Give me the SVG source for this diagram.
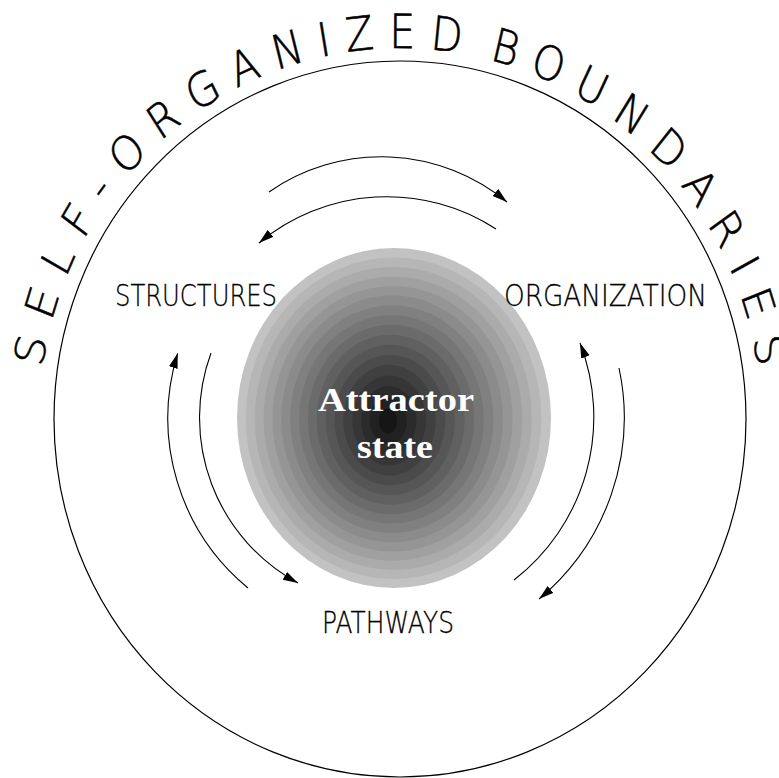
<svg xmlns="http://www.w3.org/2000/svg" width="779" height="778" viewBox="0 0 779 778">
<style>
.lbl{font-family:'DejaVu Sans','Liberation Sans',sans-serif;font-weight:200;font-size:31px;fill:#000;stroke:#000;stroke-width:0.3}
.ring{font-family:'DejaVu Sans','Liberation Sans',sans-serif;font-weight:200;font-size:41px;fill:#000;stroke:#000;stroke-width:0.5}
.core{font-family:'Liberation Serif','Times New Roman',serif;font-weight:bold;font-size:34px;fill:#fff}
.arc{fill:none;stroke:#000;stroke-width:1.1;marker-end:url(#ah)}
</style>
<defs>
<marker id="ah" markerUnits="userSpaceOnUse" markerWidth="16" markerHeight="10" refX="15" refY="4.5" orient="auto">
<path d="M0,0 L15,4.5 L0,9 Z" fill="#000"/>
</marker>
<path id="tp" d="M-361,0 A361,322.5 0 0 1 361,0" fill="none"/>
</defs>
<rect width="779" height="778" fill="#fff"/>
<g id="boundary">
<ellipse cx="400" cy="419" rx="346" ry="358" fill="none" stroke="#000" stroke-width="1.2"/>
<g transform="translate(400,419) scale(1,1.15)">
<text class="ring"><textPath href="#tp" startOffset="50%" text-anchor="middle" textLength="985" lengthAdjust="spacing" word-spacing="-14">SELF-ORGANIZED BOUNDARIES</textPath></text>
</g>
</g>
<g id="attractor">
<ellipse cx="394" cy="418" rx="157" ry="170" fill="#c2c2c2"/>
<ellipse cx="393.6" cy="418.2" rx="147.8" ry="160.8" fill="#b6b6b6"/>
<ellipse cx="393.3" cy="418.4" rx="138.5" ry="151.5" fill="#ababab"/>
<ellipse cx="392.9" cy="418.6" rx="129.3" ry="142.2" fill="#a0a0a0"/>
<ellipse cx="392.5" cy="418.8" rx="120.1" ry="132.8" fill="#959595"/>
<ellipse cx="392.1" cy="418.9" rx="110.8" ry="123.4" fill="#8b8b8b"/>
<ellipse cx="391.8" cy="419.1" rx="101.6" ry="113.9" fill="#808080"/>
<ellipse cx="391.4" cy="419.3" rx="92.4" ry="104.3" fill="#767676"/>
<ellipse cx="391" cy="419.5" rx="83.1" ry="94.7" fill="#6b6b6b"/>
<ellipse cx="390.6" cy="419.7" rx="73.9" ry="85" fill="#606060"/>
<ellipse cx="390.3" cy="419.9" rx="64.6" ry="75.2" fill="#565656"/>
<ellipse cx="389.9" cy="420.1" rx="55.4" ry="65.2" fill="#4b4b4b"/>
<ellipse cx="389.5" cy="420.3" rx="46.2" ry="55.2" fill="#404040"/>
<ellipse cx="389.1" cy="420.4" rx="36.9" ry="44.9" fill="#363636"/>
<ellipse cx="388.8" cy="420.6" rx="27.7" ry="34.5" fill="#2b2b2b"/>
<ellipse cx="388.4" cy="420.8" rx="18.5" ry="23.7" fill="#212121"/>
<ellipse cx="388" cy="421" rx="9.2" ry="12.5" fill="#161616"/>
<text class="core" x="396" y="411" text-anchor="middle" textLength="156" lengthAdjust="spacingAndGlyphs">Attractor</text>
<text class="core" x="395" y="458" text-anchor="middle" textLength="76" lengthAdjust="spacingAndGlyphs">state</text>
</g>
<g id="structures">
<text class="lbl" x="115" y="306" textLength="162" lengthAdjust="spacingAndGlyphs">STRUCTURES</text>
</g>
<g id="organization">
<text class="lbl" x="504" y="305.5" textLength="203" lengthAdjust="spacingAndGlyphs">ORGANIZATION</text>
</g>
<g id="pathways">
<text class="lbl" x="322" y="633" textLength="132" lengthAdjust="spacingAndGlyphs">PATHWAYS</text>
</g>
<g id="connectors">
<path class="arc" d="M269,192 A197,197 0 0 1 507,202"/>
<path class="arc" d="M496,229 A200,200 0 0 0 259,243"/>
<path class="arc" d="M248,588 A220,220 0 0 1 177.7,353.3"/>
<path class="arc" d="M211,353 A188,188 0 0 0 298,583"/>
<path class="arc" d="M514,580 A206,206 0 0 0 580,343"/>
<path class="arc" d="M619,368 A236,236 0 0 1 539,599"/>
</g>
</svg>
